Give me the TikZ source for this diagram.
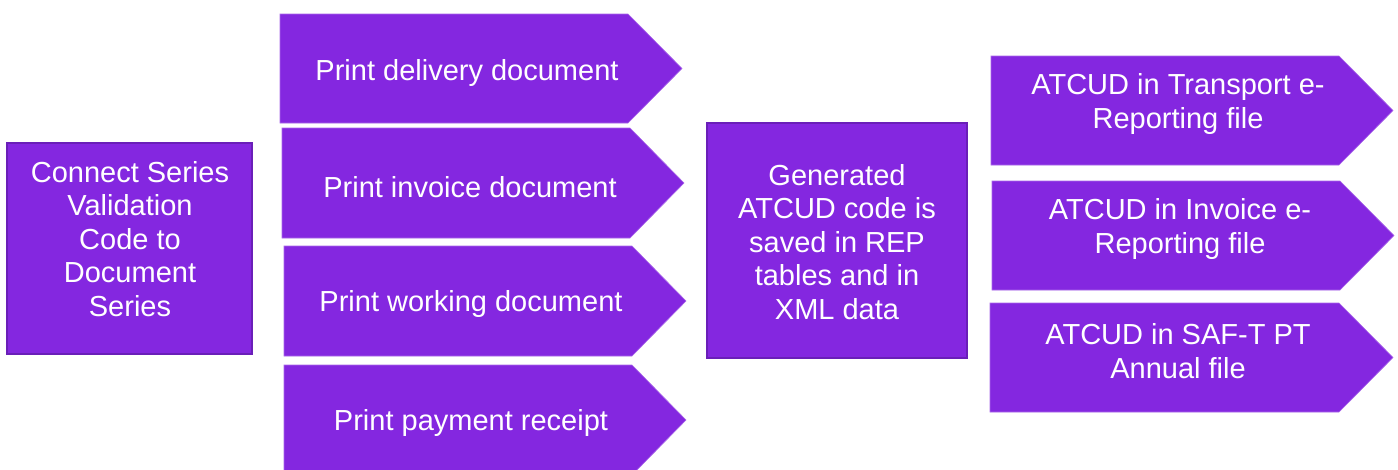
\documentclass[tikz,border=0pt]{standalone}
\usepackage{fontspec}
\setmainfont{Liberation Sans}
\usetikzlibrary{positioning}
\definecolor{atpurple}{HTML}{8427E0}
\definecolor{atborder}{HTML}{6A1FB8}

\tikzset{
  chevron/.style={fill=atpurple, draw=atpurple!70!white, line width=0.6pt},
  box/.style={fill=atpurple, draw=atborder, line width=2pt},
  boxtext/.style={text=white, align=center, inner sep=0pt,
                  font=\fontsize{29}{33.5}\selectfont}
}

\begin{document}
\begin{tikzpicture}[x=1pt, y=-1pt]
    \clip (0,0) rectangle (1398,469);
    \fill[white] (0,0) rectangle (1398,469);

    % Left box
    \draw[box] (7,143) rectangle (252,354);
    \node[boxtext] (series) at (130,239) {Connect Series\\Validation\\Code to\\Document\\Series};

    % Print steps
    \draw[chevron] (280,14) -- (628,14) -- (682,68.5) -- (628,123) -- (280,123) -- cycle;
    \node[boxtext] (delivery) at (467,73) {Print delivery document};
    \draw[chevron] (282,128) -- (630,128) -- (684,183) -- (630,238) -- (282,238) -- cycle;
    \node[boxtext] (invoice) at (470,187) {Print invoice document};
    \draw[chevron] (284,246) -- (632,246) -- (686,301) -- (632,356) -- (284,356) -- cycle;
    \node[boxtext] (working) at (471,304) {Print working document};
    \draw[chevron] (284,365) -- (632,365) -- (686,420) -- (632,475) -- (284,475) -- cycle;
    \node[boxtext] (receipt) at (471,423) {Print payment receipt};

    % Middle box
    \draw[box] (707,123) rectangle (967,358);
    \node[boxtext] (atcud) at (837,242) {Generated\\ATCUD code is\\saved in REP\\tables and in\\XML data};

    % Reporting files
    \draw[chevron] (991,56) -- (1339,56) -- (1393,110.5) -- (1339,165) -- (991,165) -- cycle;
    \node[boxtext] (transport) at (1178,104) {ATCUD in Transport e-\\Reporting file};
    \draw[chevron] (992,181) -- (1340,181) -- (1394,235.5) -- (1340,290) -- (992,290) -- cycle;
    \node[boxtext] (einvoice) at (1180,229) {ATCUD in Invoice e-\\Reporting file};
    \draw[chevron] (990,303) -- (1339,303) -- (1393,357.5) -- (1339,412) -- (990,412) -- cycle;
    \node[boxtext] (saft) at (1178,351) {ATCUD in SAF-T PT\\Annual file};
\end{tikzpicture}
\end{document}
